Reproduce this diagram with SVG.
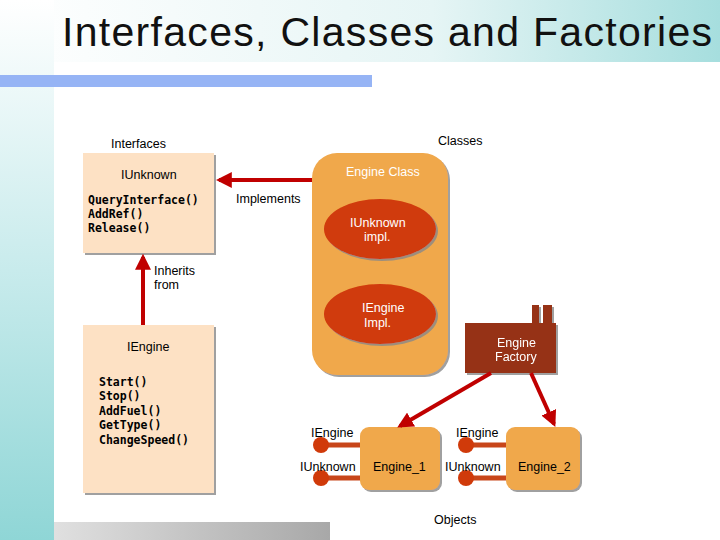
<svg xmlns="http://www.w3.org/2000/svg" width="720" height="540" viewBox="0 0 720 540">
<defs>
<linearGradient id="side" x1="0" y1="0" x2="0" y2="1"><stop offset="0" stop-color="#ffffff"/><stop offset="0.5" stop-color="#c8ebec"/><stop offset="1" stop-color="#8fd6d6"/></linearGradient>
<linearGradient id="top" x1="0" y1="0" x2="1" y2="0"><stop offset="0" stop-color="#ffffff"/><stop offset="0.6" stop-color="#e6f5f5"/><stop offset="1" stop-color="#a6dede"/></linearGradient>
<linearGradient id="bot" x1="0" y1="0" x2="1" y2="0"><stop offset="0" stop-color="#e0e0e0"/><stop offset="1" stop-color="#a8a8a8"/></linearGradient>
<marker id="ah" viewBox="0 0 10 10" refX="8" refY="5" markerWidth="4" markerHeight="4" orient="auto"><path d="M0,0L10,5L0,10z" fill="#c00000"/></marker>
<filter id="sh"><feDropShadow dx="2" dy="2" stdDeviation="0.6" flood-color="#888" flood-opacity="0.8"/></filter>
</defs>
<style>
text{font-family:"Liberation Sans",Arial,sans-serif;font-size:12.5px;fill:#000}
.mono{font-family:"DejaVu Sans Mono","Liberation Mono",monospace;font-size:11.5px;font-weight:bold}
.w{fill:#fff}
.box{fill:#fde1c4;filter:url(#sh)}
.org{fill:#f0a84c;filter:url(#sh)}
.ell{fill:#d03a0a;filter:url(#sh)}
.con{stroke:#c00000;stroke-width:4;fill:none;marker-end:url(#ah)}
.lol{stroke:#c8461a;stroke-width:5}
.dot{fill:#d03a0a}
</style>
<rect width="720" height="540" fill="#fff"/>
<rect x="0" y="0" width="720" height="62" fill="url(#top)"/>
<rect x="0" y="0" width="54" height="540" fill="url(#side)"/>
<rect x="0" y="75" width="372" height="12" fill="#96b4f5"/>
<rect x="54" y="522" width="276" height="18" fill="url(#bot)"/>
<text x="62" y="46" textLength="650" style="font-size:41px;fill:#111">Interfaces, Classes and Factories</text>
<text x="111" y="148">Interfaces</text>
<text x="438" y="145">Classes</text>
<text x="434" y="524">Objects</text>
<g id="iunknown"><rect class="box" x="83" y="153" width="131" height="100"/><text x="121" y="179">IUnknown</text><text class="mono" x="88" y="204">QueryInterface()</text><text class="mono" x="88" y="218">AddRef()</text><text class="mono" x="88" y="232">Release()</text></g>
<g id="iengine"><rect class="box" x="83" y="325" width="131" height="168"/><text x="127" y="351">IEngine</text><text class="mono" x="99" y="386">Start()</text><text class="mono" x="99" y="400">Stop()</text><text class="mono" x="99" y="415">AddFuel()</text><text class="mono" x="99" y="429">GetType()</text><text class="mono" x="99" y="444">ChangeSpeed()</text></g>
<g id="engineclass"><rect class="org" x="312" y="153" width="136" height="222" rx="25"/><text class="w" x="346" y="176">Engine Class</text>
<ellipse class="ell" cx="380" cy="229" rx="56" ry="30"/><text class="w" x="350" y="227">IUnknown</text><text class="w" x="364" y="241">impl.</text>
<ellipse class="ell" cx="380" cy="314" rx="56" ry="30"/><text class="w" x="362" y="312">IEngine</text><text class="w" x="364" y="327">Impl.</text></g>
<g id="factory" filter="url(#sh)"><path d="M465,323H532V305H539V323H543V305H552V323H556V373H465z" fill="#963214"/><text class="w" x="497" y="347">Engine</text><text class="w" x="495" y="361">Factory</text></g>
<g id="engine1"><line class="lol" x1="321" y1="445" x2="362" y2="445"/><line class="lol" x1="321" y1="478" x2="362" y2="478"/><circle class="dot" cx="321" cy="445" r="8"/><circle class="dot" cx="321" cy="478" r="8"/><rect class="org" x="360" y="427" width="80" height="63" rx="9"/><text x="373" y="471">Engine_1</text><text x="311" y="437">IEngine</text><text x="300" y="471">IUnknown</text></g>
<g id="engine2"><line class="lol" x1="466" y1="445" x2="508" y2="445"/><line class="lol" x1="466" y1="478" x2="508" y2="478"/><circle class="dot" cx="466" cy="445" r="8"/><circle class="dot" cx="466" cy="478" r="8"/><rect class="org" x="506" y="427" width="74" height="63" rx="9"/><text x="518" y="471">Engine_2</text><text x="456" y="437">IEngine</text><text x="445" y="471">IUnknown</text></g>
<g id="connectors">
<line class="con" x1="312" y1="180" x2="219" y2="180"/><text x="236" y="203">Implements</text>
<line class="con" x1="143" y1="325" x2="143" y2="257"/><text x="154" y="275">Inherits</text><text x="154" y="289">from</text>
<line class="con" x1="491" y1="373" x2="400" y2="426"/>
<line class="con" x1="531" y1="373" x2="554" y2="424"/>
</g>
</svg>
